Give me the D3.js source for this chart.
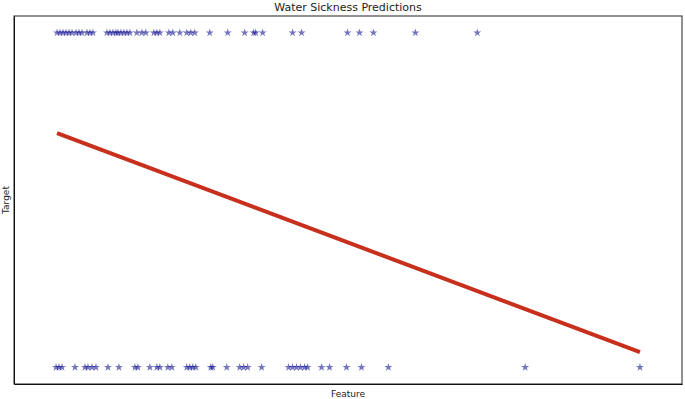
<!DOCTYPE html>
<html>
<head>
<meta charset="utf-8">
<script src="https://cdn.jsdelivr.net/npm/d3@7"></script>
<style>
  body { margin: 0; background: #fff; }
  text { font-family: "DejaVu Sans", sans-serif; fill: #222; }
</style>
</head>
<body>
<div id="chart"></div>
<script>
// feature values of the samples, split by target class
const featureSick = [57, 60, 63, 66, 69, 72, 76, 79, 82, 87, 90, 93, 107, 110, 113, 116, 118, 121, 124, 127, 130, 137, 142, 146, 154, 157, 160, 169, 173, 180, 187, 191, 195, 210, 228, 245, 254, 256, 263, 293, 302, 348, 360, 374, 416, 478]
const featureHealthy = [56, 59, 62, 75, 85, 88, 92, 96, 108, 119, 135, 138, 150, 157, 160, 168, 172, 187, 190, 193, 196, 211, 213, 227, 240, 244, 248, 262, 289, 293, 297, 301, 305, 308, 322, 330, 347, 362, 389, 526, 641]
const targetSick = 1
const targetHealthy = 0
// fitted regression line at both ends of the feature range
const lineFeature = [57, 641]
const linePrediction = [0.70, 0.045]

const points = [
  ...featureSick.map(x => ({ x, y: targetSick })),
  ...featureHealthy.map(x => ({ x, y: targetHealthy })),
]
const linePoints = lineFeature.map((x, i) => ({ x, y: linePrediction[i] }))

const width = 685
const height = 399
const margin = { top: 16, right: 3, bottom: 15, left: 14 }

const svg = d3.select("#chart").append("svg")
  .attr("width", width)
  .attr("height", height)

const xExtent = d3.extent(points, d => d.x)
const xPad = (xExtent[1] - xExtent[0]) * 0.072
const xScale = d3.scaleLinear()
  .domain([xExtent[0] - xPad, xExtent[1] + xPad])
  .range([margin.left, width - margin.right])

const yScale = d3.scaleLinear()
  .domain([-0.05, 1.05])
  .range([height - margin.bottom, margin.top])

// scatter of the samples
svg.append("g")
  .selectAll("path")
  .data(points)
  .join("path")
    .attr("transform", d => `translate(${xScale(d.x)},${yScale(d.y)})`)
    .attr("d", d3.symbol(d3.symbolStar, 20))
    .attr("fill", "#00008b")
    .attr("fill-opacity", 0.55)

// regression line
const line = d3.line()
  .x(d => xScale(d.x))
  .y(d => yScale(d.y))

svg.append("path")
  .attr("d", line(linePoints))
  .attr("fill", "none")
  .attr("stroke", "#c7301d")
  .attr("stroke-width", 4)

// frame, no ticks
const xAxis = d3.axisBottom(xScale).tickValues([]).tickSizeOuter(0)
const yAxis = d3.axisLeft(yScale).tickValues([]).tickSizeOuter(0)
svg.append("g")
  .attr("transform", `translate(0,${height - margin.bottom})`)
  .call(xAxis)
svg.append("g")
  .attr("transform", `translate(${margin.left},0)`)
  .call(yAxis)
svg.append("rect")
  .attr("x", margin.left)
  .attr("y", margin.top)
  .attr("width", width - margin.left - margin.right)
  .attr("height", height - margin.top - margin.bottom)
  .attr("fill", "none")
  .attr("stroke", "#222")
  .attr("stroke-width", 1)

svg.append("text")
  .attr("x", (margin.left + width - margin.right) / 2)
  .attr("y", 11)
  .attr("text-anchor", "middle")
  .style("font-size", "11px")
  .text("Water Sickness Predictions")

svg.append("text")
  .attr("x", (margin.left + width - margin.right) / 2)
  .attr("y", 397)
  .attr("text-anchor", "middle")
  .style("font-size", "9px")
  .text("Feature")

svg.append("text")
  .attr("transform", `translate(9,${(margin.top + height - margin.bottom) / 2}) rotate(-90)`)
  .attr("text-anchor", "middle")
  .style("font-size", "9px")
  .text("Target")
</script>
</body>
</html>
